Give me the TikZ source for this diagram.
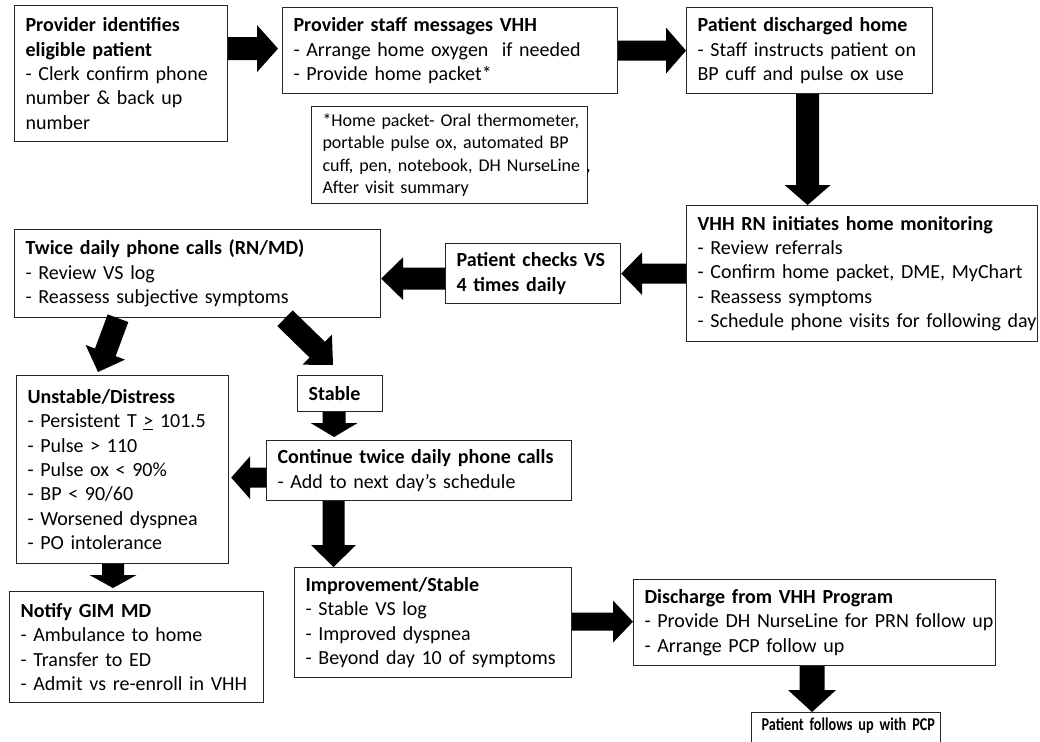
\documentclass[tikz,border=0pt]{standalone}
\usepackage{fontspec}
\setmainfont{Carlito}
\newfontfamily\condfont[FakeStretch=0.79]{Carlito}
\usetikzlibrary{calc}
\tikzset{
  box/.style={draw=black!85, line width=1.2pt, fill=white, anchor=north west, align=left,
    inner xsep=11pt, inner ysep=0pt, font=\fontsize{20}{24.4}\selectfont, text=black},
  notebox/.style={box, line width=1pt, font=\fontsize{18}{22.5}\selectfont},
  endbox/.style={box, inner xsep=10pt, inner ysep=5pt, text depth=40pt, font=\condfont\fontsize{18}{22}\selectfont},
  arrowfill/.style={fill=black}
}
\newcommand\bx[7][box]{% style, name, x1, y1, x2, y2, text
  \pgfmathsetmacro\bxw{#5-#3}%
  \pgfmathsetmacro\bxh{#6-#4}%
  \pgfmathsetmacro\bxt{#5-#3-22}%
  \node[#1, minimum width=\bxw pt, minimum height=\bxh pt, text width=\bxt pt] (#2) at (#3,#4) {#7};
}
\newcommand\barrow[5]{% start, end, shaft half width, head half width, head length
  \coordinate (ba) at (#1);
  \coordinate (bb) at (#2);
  \coordinate (bc) at ($(bb)!#5pt!(ba)$);
  \fill[arrowfill] ($(ba)!#3pt!90:(bb)$) -- ($(bc)!#3pt!90:(bb)$) -- ($(bc)!#4pt!90:(bb)$) -- (bb)
    -- ($(bc)!#4pt!-90:(bb)$) -- ($(bc)!#3pt!-90:(bb)$) -- ($(ba)!#3pt!-90:(bb)$) -- cycle;
}
\begin{document}
\begin{tikzpicture}[x=1pt,y=-1pt]
\useasboundingbox (0,0) rectangle (1040,741);
\clip (0,0) rectangle (1040,741);
\fill[white] (0,0) rectangle (1040,741);

\bx{b1}{14}{5}{227}{141}{\textbf{Provider identifies}\\\textbf{eligible patient}\\- Clerk confirm phone\\number \& back up\\number}
\bx{b2}{282}{7}{617}{93}{\textbf{Provider staff messages VHH}\\- Arrange home oxygen\ \ if needed\\- Provide home packet*}
\bx[notebox]{note}{311}{106}{587}{203}{\mbox{*Home packet- Oral thermometer,}\\\mbox{portable pulse ox, automated BP}\\\mbox{cuff, pen, notebook, DH NurseLine ,}\\After visit summary}
\bx{b3}{686}{7}{932}{93}{\textbf{Patient discharged home}\\\mbox{- Staff instructs patient on}\\\mbox{BP cuff and pulse ox use}}
\bx{b4}{686}{205}{1037}{341}{\textbf{VHH RN initiates home monitoring}\\- Review referrals\\- Confirm home packet, DME, MyChart\\- Reassess symptoms\\\mbox{- Schedule phone visits for following day}}
\bx{b5}{445}{243}{620}{303}{\textbf{Patient checks VS}\\\textbf{4 times daily}}
\bx{b6}{14}{229}{380}{317}{\textbf{Twice daily phone calls (RN/MD)}\\- Review VS log\\- Reassess subjective symptoms}
\bx{b7}{16}{375}{228}{563}{\textbf{Unstable/Distress}\\\mbox{- Persistent T \underline{>} 101.5}\\- Pulse > 110\\- Pulse ox < 90\%\\- BP < 90/60\\- Worsened dyspnea\\- PO intolerance}
\bx{b8}{297}{375}{382}{411}{\textbf{Stable}}
\bx{b9}{266}{440}{571}{500}{\mbox{\textbf{Continue twice daily phone calls}}\\- Add to next day’s schedule}
\bx{b10}{9}{591}{263}{702}{\textbf{Notify GIM MD}\\- Ambulance to home\\- Transfer to ED\\\mbox{- Admit vs re-enroll in VHH}}
\bx{b11}{294}{567}{571}{677}{\textbf{Improvement/Stable}\\- Stable VS log\\- Improved dyspnea\\\mbox{- Beyond day 10 of symptoms}}
\bx{b12}{633}{579}{995}{665}{\textbf{Discharge from VHH Program}\\\mbox{- Provide DH NurseLine for PRN follow up}\\- Arrange PCP follow up}
\node[endbox, minimum width=189pt, text width=169pt] (b13) at (751,712) {\mbox{\textbf{Patient follows up with PCP}}};

\barrow{$(b1.east)+(0,-25)$}{$(b2.west)+(-4,-2)$}{11.5}{23.5}{21}
\barrow{b2.east}{b3.west}{10}{23}{20}
\barrow{$(b3.south)+(-2,0)$}{$(b3.south |- b4.north)+(-2,0)$}{11.5}{23}{20}
\barrow{b4.west}{b5.east}{10}{21.5}{21}
\barrow{$(b5.west)+(0,5)$}{$(b6.east |- b5.west)+(0,5)$}{11}{21.5}{22}
\barrow{$(b6.south west)+(104,0)$}{$(b7.north west)+(82,-3)$}{11}{21}{21}
\barrow{$(b6.south west)+(271,0)$}{$(b8.north west)+(36,-10)$}{11}{21}{22}
\barrow{$(b8.south)+(-6,0)$}{$(b8.south |- b9.north)+(-6,-3)$}{11.5}{23.5}{14}
\barrow{$(b9.west)+(0,7)$}{$(b7.east |- b9.west)+(2,7)$}{10}{21.5}{19}
\barrow{$(b9.south west)+(67.5,0)$}{$(b11.north west)+(39.5,0)$}{11}{22.5}{22}
\barrow{$(b7.south west)+(97,0)$}{$(b10.north west)+(104,-3)$}{11}{23.5}{13}
\barrow{$(b11.east)+(0,-1)$}{$(b12.west |- b11.east)+(0,-1)$}{9}{21}{20}
\barrow{$(b12.south west)+(179,0)$}{$(b13.north west)+(61,0)$}{12.5}{24}{22}
\end{tikzpicture}
\end{document}
